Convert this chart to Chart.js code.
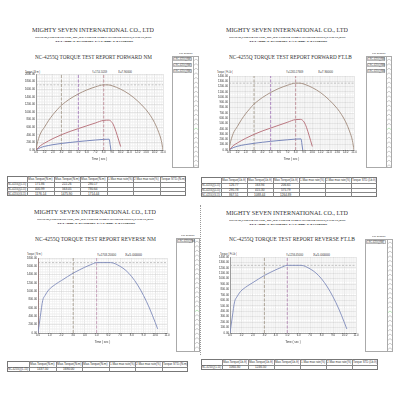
<!DOCTYPE html>
<html>
<head>
<meta charset="utf-8">
<script src="https://cdn.jsdelivr.net/npm/chart.js@4.4.1/dist/chart.umd.min.js"></script>
<style>
html, body { margin: 0; padding: 0; background: #fff; }
#page { position: relative; width: 400px; height: 400px; overflow: hidden; background: #fff; }
.t { position: absolute; white-space: nowrap; font-family: 'Liberation Serif', serif; font-size: 10px; line-height: 10px; color: #333; transform-origin: 0 0; }
.ln { position: absolute; box-sizing: border-box; }
canvas { position: absolute; }
</style>
</head>
<body>
<div id="page"></div>
<script>
// forward curves, time in seconds
const bigTime = [0, 0.1, 0.5, 1, 1.5, 2, 2.5, 3, 3.5, 4, 4.5, 5, 6, 7, 8, 8.5, 9, 10, 11, 12, 13, 13.5, 14, 14.5, 14.8, 15];
const midTime = [0, 0.5, 1, 2, 3, 4, 5, 6, 7, 8, 8.6, 9.0, 9.3, 9.6, 10.0];
const smallTime = [0, 0.5, 1, 2, 3, 4, 5, 6, 7, 8, 8.65, 8.75, 8.85];

const fwdNmBig = [0, 130, 420, 600, 780, 930, 1060, 1176, 1265, 1345, 1413, 1476, 1580, 1660, 1714, 1714, 1690, 1600, 1470, 1290, 1060, 910, 720, 460, 250, 0];
const fwdNmMid = [0, 110, 180, 300, 401, 488, 563, 637, 710, 780, 785, 720, 580, 380, 90];
const fwdNmSmall = [0, 60, 95, 140, 172, 198, 222, 243, 262, 280, 284, 150, 0];

const fwdFtBig = [0, 96, 310, 443, 575, 686, 782, 867.5, 933, 992, 1042, 1088.4, 1165, 1224, 1264.9, 1264.9, 1247, 1180, 1084, 951, 782, 671, 531, 339, 184, 0];
const fwdFtMid = [0, 81, 133, 221, 295.8, 360, 415.3, 470, 524, 575.8, 579, 531, 428, 280, 66];
const fwdFtSmall = [0, 44, 70, 103, 126.8, 146, 163.9, 179, 193, 206.7, 209.5, 111, 0];

// reverse curve
const revTime = [0, 0.2, 0.4, 0.6, 0.9, 1.5, 2, 2.5, 3, 3.5, 4, 4.5, 5, 5.5, 6.2, 7, 7.5, 8, 8.5, 9, 9.5, 10, 10.2];
const revNm = [0, 400, 780, 900, 1030, 1170, 1260, 1350, 1437.5, 1510, 1580, 1640, 1690, 1690, 1690, 1600, 1500, 1350, 1150, 900, 600, 250, 100];
const revFt = [0, 295, 575, 664, 760, 863, 929, 996, 1060.3, 1114, 1165, 1210, 1246.5, 1246.5, 1246.5, 1180, 1106, 996, 848, 664, 443, 184, 74];

// cursor positions (sec) and peak lines
const fwdCursors = [3, 5, 8];
const revCursors = [3, 5];
const fwdNmPeak = 1714.44;
const fwdFtPeak = 1264.89;
const revNmPeak = 1690;
const revFtPeak = 1246.5;

// table values
const fwdNmTable = [['171.86', '222.26', '280.17'], ['400.99', '563.05', '780.64'], ['1176.14', '1475.90', '1714.44']];
const fwdFtTable = [['126.77', '163.94', '206.65'], ['295.78', '415.30', '575.79'], ['867.51', '1088.44', '1264.89']];
const revNmTable = [['1437.50', '1690.00']];
const revFtTable = [['1060.30', '1246.50']];

const brown = '#a08a7c';
const red = '#b46a74';
const blue = '#6c7cb4';
const revBlue = '#7f8bbb';

const page = document.getElementById('page');

function txt(x, cy, w, h, str, opts) {
  opts = opts || {};
  const d = document.createElement('div');
  d.className = 't';
  d.textContent = str;
  if (opts.font) d.style.fontFamily = opts.font;
  if (opts.color) d.style.color = opts.color;
  if (opts.bold) d.style.fontWeight = 'bold';
  page.appendChild(d);
  const mw = d.offsetWidth;
  d.style.left = x + 'px';
  d.style.top = (cy - h / 2) + 'px';
  d.style.transform = 'scale(' + (w / mw) + ',' + (h / 10) + ')';
  return d;
}
function ctxt(cx, cy, w, h, str, opts) { return txt(cx - w / 2, cy, w, h, str, opts); }

function rect(x, y, w, h, css) {
  const d = document.createElement('div');
  d.className = 'ln';
  d.style.left = x + 'px'; d.style.top = y + 'px';
  d.style.width = w + 'px'; d.style.height = h + 'px';
  d.style.cssText += css;
  page.appendChild(d);
  return d;
}

function header(cx, cy, titleCx, titleCy, titleW, title) {
  ctxt(cx, cy, 122, 6.5, 'MIGHTY SEVEN INTERNATIONAL CO., LTD');
  ctxt(cx, cy + 7, 117, 2.8, 'NO.79-25,CHUNG SHANG., RD.,WU-CHUNG 41466 TAICHUNG HSIEN,TAIWAN,ROC', { color: '#111', bold: true });
  ctxt(cx + 1, cy + 11, 78, 2.8, 'TEL:886-4-23350587            FAX:886-4-23350929', { color: '#111', bold: true });
  ctxt(titleCx, titleCy, titleW, 6, title);
}

function fileBox(x, y, w, h, n) {
  ctxt(x + w / 2, y - 3, 14, 2.4, 'File Display', { font: 'Liberation Sans' });
  rect(x, y, w, h, 'border:0.7px solid #aaa;');
  rect(x + w - 6, y, 6, h, 'border-left:0.7px solid #aaa;');
  for (let i = 0; i < n; i++) {
    rect(x + 1, y + 1 + i * 6, w - 8, 4, 'border:0.5px solid #bbb;');
    txt(x + 1.5, y + 3 + i * 6, 17, 2.6, (i + 1) + '.NC-4255Q(NM)', { font: 'Liberation Sans' });
  }
  const ns = 'http://www.w3.org/2000/svg';
  const svg = document.createElementNS(ns, 'svg');
  svg.setAttribute('width', 6); svg.setAttribute('height', h);
  svg.style.position = 'absolute';
  svg.style.left = (x + w - 6) + 'px'; svg.style.top = y + 'px';
  for (let yy = 3; yy < h - 1; yy += 4.6) {
    const p = document.createElementNS(ns, 'polyline');
    p.setAttribute('points', '1,' + (yy + 1.6) + ' 3,' + yy + ' 5,' + (yy + 1.6));
    p.setAttribute('fill', 'none');
    p.setAttribute('stroke', Math.abs(yy - 70) < 2.5 ? '#7c7' : '#999');
    p.setAttribute('stroke-width', '0.5');
    svg.appendChild(p);
  }
  page.appendChild(svg);
}

function table(x, y, firstW, colW, unit, rows) {
  const heads = ['Max.Torque(' + unit + ')', 'Max.Torque(' + unit + ')', 'Max.Torque(' + unit + ')', '1.Max max rate(%)', '2.Max max rate(%)', 'Torque STD.(' + unit + ')'];
  const hh = 5.6, rh = 4.9;
  const totalW = firstW + colW * 6;
  const totalH = hh + rh * rows.length;
  rect(x, y, totalW, totalH, 'border:0.7px solid #777;');
  rect(x, y + hh, totalW, 0, 'border-top:0.6px solid #888;');
  for (let r = 1; r < rows.length; r++) rect(x, y + hh + rh * r, totalW, 0, 'border-top:0.6px solid #888;');
  for (let c = 0; c < 6; c++) {
    const cx = x + firstW + colW * c;
    rect(cx, y, 0, totalH, 'border-left:0.6px solid #888;');
    ctxt(cx + colW / 2, y + hh / 2, colW - 2, 2.6, heads[c], { font: 'Liberation Sans' });
  }
  rows.forEach((row, r) => {
    const cy = y + hh + rh * r + rh / 2;
    txt(x + 0.8, cy, firstW - 2, 2.6, 'NC-4255Q(' + (r + 1) + '-15)', { font: 'Liberation Sans' });
    row.forEach((v, c) => ctxt(x + firstW + colW * c + colW / 2, cy, v.length * 1.6, 2.6, v, { font: 'Liberation Sans' }));
  });
}

function vline(x, yMax, color, dash) {
  return { type: 'line', data: [{ x: x, y: 0 }, { x: x, y: yMax }], borderColor: color, borderWidth: 0.8, borderDash: dash, pointRadius: 0, tension: 0 };
}
function hline(y, xMax) {
  return { type: 'line', data: [{ x: 0, y: y }, { x: xMax, y: y }], borderColor: '#a0a0a0', borderWidth: 0.6, borderDash: [2, 1.5], pointRadius: 0, tension: 0 };
}
function curve(xs, ys, color) {
  return { type: 'line', data: xs.map((t, i) => ({ x: t, y: ys[i] })), borderColor: color, borderWidth: 0.9, pointRadius: 0, cubicInterpolationMode: 'monotone' };
}

function makeChart(spec) {
  const cv = document.createElement('canvas');
  cv.width = spec.w; cv.height = spec.h;
  cv.style.left = spec.left + 'px'; cv.style.top = spec.top + 'px';
  cv.style.width = spec.w + 'px'; cv.style.height = spec.h + 'px';
  page.appendChild(cv);
  const near = (v, m) => Math.abs(v / m - Math.round(v / m)) < 1e-6;
  new Chart(cv, {
    type: 'line',
    data: { datasets: spec.datasets },
    options: {
      responsive: false,
      animation: false,
      events: [],
      layout: { padding: { top: 4, right: 6, left: 0, bottom: 0 } },
      plugins: { legend: { display: false }, tooltip: { enabled: false } },
      scales: {
        x: {
          type: 'linear', min: 0, max: spec.xMax,
          afterFit: s => { s.height = 12; },
          ticks: {
            stepSize: 0.2, autoSkip: false, maxRotation: 0, padding: 1,
            font: { family: 'Liberation Sans', size: 2.8 }, color: '#333',
            callback: v => near(v, 1) ? Math.round(v).toFixed(1) : ''
          },
          grid: { drawTicks: false, lineWidth: 0.5, color: c => near(c.tick.value, 1) ? '#cfcfcf' : '#ededed' },
          border: { color: '#888', width: 0.8 },
          title: { display: true, text: 'Time ( sec )', font: { family: 'Liberation Sans', size: 3 }, color: '#333', padding: { top: 0, bottom: 1 } }
        },
        y: {
          type: 'linear', min: 0, max: spec.yMax,
          afterFit: s => { s.width = spec.yW; },
          ticks: {
            stepSize: spec.yMinor, autoSkip: false, padding: 1,
            font: { family: 'Liberation Sans', size: 2.8 }, color: '#333',
            callback: v => near(v, spec.yMajor) ? Math.round(v).toFixed(2) : ''
          },
          grid: { drawTicks: false, lineWidth: 0.5, color: c => near(c.tick.value, spec.yMajor) ? '#cfcfcf' : '#ededed' },
          border: { color: '#888', width: 0.8 }
        }
      }
    }
  });
}

// ---- top left: forward N.m
header(93, 30, 93, 57, 117, 'NC-4255Q TORQUE TEST REPORT FORWARD NM');
txt(25, 72, 15, 2.6, 'Torque ( N·m )', { font: 'Liberation Sans' });
txt(92, 72.5, 15, 2.6, 'Y=1714.10209', { font: 'Liberation Sans' });
txt(118, 72.5, 14, 2.6, 'X=7.90000', { font: 'Liberation Sans' });
makeChart({
  left: 14, top: 70, w: 155, h: 92, yW: 22, xMax: 15, yMax: 2000, yMinor: 40, yMajor: 200,
  datasets: [
    curve(bigTime, fwdNmBig, brown), curve(midTime, fwdNmMid, red), curve(smallTime, fwdNmSmall, blue),
    vline(fwdCursors[0], 2000, '#a09484', [3, 1.5]), vline(fwdCursors[1], 2000, '#a070b8', [3, 1.5]), vline(fwdCursors[2], 2000, '#b8808c', [3, 1.5]),
    hline(fwdNmPeak, 15)
  ]
});
fileBox(172, 56, 27, 112, 3);
table(7, 176, 20, 26.5, 'N.m', fwdNmTable);

// ---- top right: forward ft.lb
header(287, 30, 290, 57, 123, 'NC-4255Q TORQUE TEST REPORT FORWARD FT.LB');
txt(217, 72, 16, 2.6, 'Torque ( Ft-Lb )', { font: 'Liberation Sans' });
txt(286, 72.5, 17, 2.6, 'Y=1265.17669', { font: 'Liberation Sans' });
txt(318, 72.5, 15, 2.6, 'X=7.90000', { font: 'Liberation Sans' });
makeChart({
  left: 207, top: 72, w: 153, h: 90, yW: 22, xMax: 15, yMax: 1400, yMinor: 20, yMajor: 100,
  datasets: [
    curve(bigTime, fwdFtBig, brown), curve(midTime, fwdFtMid, red), curve(smallTime, fwdFtSmall, blue),
    vline(fwdCursors[0], 1400, '#a09484', [3, 1.5]), vline(fwdCursors[1], 1400, '#a070b8', [3, 1.5]), vline(fwdCursors[2], 1400, '#b8808c', [3, 1.5]),
    hline(fwdFtPeak, 15)
  ]
});
fileBox(366, 56, 26, 112, 3);
table(201, 177, 20, 26, 'Lb-ft', fwdFtTable);

// ---- bottom left: reverse N.m
header(95, 212, 95, 239, 121, 'NC-4255Q TORQUE TEST REPORT REVERSE NM');
txt(27, 254, 15, 2.6, 'Torque ( N·m )', { font: 'Liberation Sans' });
txt(97, 255, 19, 2.6, 'Y=1703.20000', { font: 'Liberation Sans' });
txt(125, 255, 17, 2.6, 'X=5.00000', { font: 'Liberation Sans' });
makeChart({
  left: 15, top: 254, w: 158, h: 91, yW: 23, xMax: 11, yMax: 1800, yMinor: 40, yMajor: 200,
  datasets: [
    curve(revTime, revNm, revBlue),
    vline(0, 1800, '#a05a5a', []), vline(revCursors[0], 1800, '#a09484', [3, 1.5]), vline(revCursors[1], 1800, '#c090b0', [3, 1.5]),
    hline(revNmPeak, 11)
  ]
});
fileBox(176, 238, 24, 114, 1);
table(7, 361, 22, 26.5, 'N.m', revNmTable);
rect(200, 205, 0, 150, 'border-left:0.7px dotted #999;');

// ---- bottom right: reverse ft.lb
header(287, 213, 292, 239, 126, 'NC-4255Q TORQUE TEST REPORT REVERSE FT.LB');
txt(220, 254, 17, 2.6, 'Torque ( Ft-Lb )', { font: 'Liberation Sans' });
txt(286, 255, 17, 2.6, 'Y=1256.45000', { font: 'Liberation Sans' });
txt(313, 255, 17, 2.6, 'X=5.00000', { font: 'Liberation Sans' });
makeChart({
  left: 208, top: 253, w: 154, h: 92, yW: 22, xMax: 11, yMax: 1400, yMinor: 20, yMajor: 100,
  datasets: [
    curve(revTime, revFt, revBlue),
    vline(revCursors[0], 1400, '#a09484', [3, 1.5]), vline(revCursors[1], 1400, '#b080b0', [3, 1.5]),
    hline(revFtPeak, 11)
  ]
});
fileBox(365, 239, 28, 113, 1);
table(201, 359, 21, 26, 'Lb-ft', revFtTable);
</script>
</body>
</html>
